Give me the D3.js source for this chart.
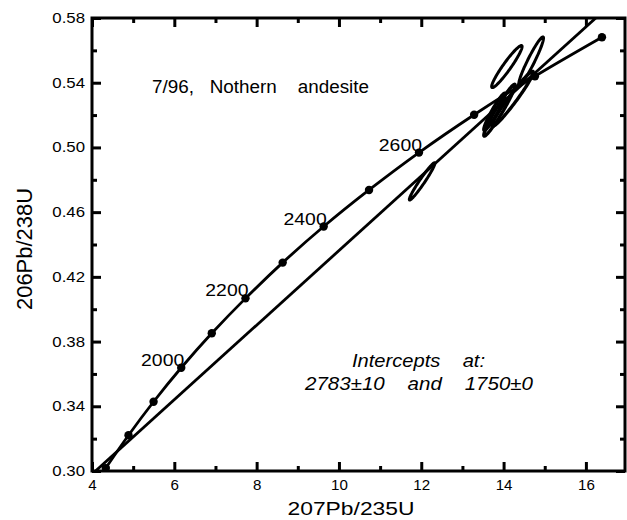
<!DOCTYPE html>
<html>
<head>
<meta charset="utf-8">
<script src="https://cdn.jsdelivr.net/npm/d3@7"></script>
<style>
  body { margin: 0; background: #fff; }
  svg { display: block; font-family: "Liberation Sans", Arial, sans-serif; }
  text { white-space: pre; }
</style>
</head>
<body>
<div id="chart"></div>
<script>
// concordia points (age in Ma, 207Pb/235U, 206Pb/238U)
var concAge = [1700, 1800, 1900, 2000, 2100, 2200, 2300, 2400, 2500, 2600, 2700, 2800, 2900];
var concX   = [4.335, 4.887, 5.496, 6.168, 6.910, 7.729, 8.633, 9.629, 10.731, 11.944, 13.284, 14.762, 16.39];
var concY   = [0.3018, 0.3221, 0.3428, 0.3638, 0.3851, 0.4067, 0.4288, 0.4511, 0.4737, 0.4968, 0.5202, 0.5440, 0.5681];
var labelAges = [2000, 2200, 2400, 2600];

// discordia end points
var discX = [3.9, 16.6];
var discY = [0.2957, 0.5883];

// error ellipses: centre, sigma x, sigma y, correlation
var ellX   = [12.02, 14.08, 14.67, 13.90, 14.22, 13.78];
var ellY   = [0.479, 0.550, 0.5535, 0.523, 0.530, 0.522];
var ellSx  = [0.31, 0.37, 0.30, 0.38, 0.50, 0.26];
var ellSy  = [0.0115, 0.013, 0.0148, 0.0160, 0.0170, 0.0115];
var ellRho = [0.97, 0.95, 0.95, 0.965, 0.97, 0.95];

var xTicks = [4, 6, 8, 10, 12, 14, 16];
var xMinor = [5, 7, 9, 11, 13, 15];
var yTicks = [0.30, 0.34, 0.38, 0.42, 0.46, 0.50, 0.54, 0.58];
var yMinor = [0.32, 0.36, 0.40, 0.44, 0.48, 0.52, 0.56];

var width = 627, height = 520;
var margin = {top: 18, right: 2, bottom: 49, left: 92};

var x = d3.scaleLinear().domain([4, 16.95]).range([margin.left, width - margin.right]);
var y = d3.scaleLinear().domain([0.30, 0.58]).range([height - margin.bottom, margin.top]);

var svg = d3.select("#chart").append("svg")
    .attr("width", width)
    .attr("height", height);

// stretch a text horizontally to a given length (the scan is wider than the font)
function fit(sel, len) {
    sel.attr("textLength", len).attr("lengthAdjust", "spacingAndGlyphs");
}
function widen(sel, k) {
    sel.each(function() {
        var w = this.getComputedTextLength();
        d3.select(this).attr("textLength", w * k).attr("lengthAdjust", "spacingAndGlyphs");
    });
}

svg.append("defs").append("clipPath").attr("id", "clip")
  .append("rect")
    .attr("x", x(4)).attr("y", y(0.58))
    .attr("width", x(16.95) - x(4)).attr("height", y(0.30) - y(0.58));

var plot = svg.append("g").attr("clip-path", "url(#clip)");

// discordia
plot.append("line")
    .attr("x1", x(discX[0])).attr("y1", y(discY[0]))
    .attr("x2", x(discX[1])).attr("y2", y(discY[1]))
    .attr("stroke", "#000").attr("stroke-width", 2.8);

// concordia
var conc = concX.map(function(d, i) { return [d, concY[i], concAge[i]]; });
plot.append("path")
    .datum(conc)
    .attr("fill", "none")
    .attr("stroke", "#000")
    .attr("stroke-width", 2.8)
    .attr("d", d3.line()
        .x(function(d) { return x(d[0]); })
        .y(function(d) { return y(d[1]); })
        .curve(d3.curveCatmullRom));

plot.selectAll(".dot")
    .data(conc)
  .enter().append("circle")
    .attr("class", "dot")
    .attr("cx", function(d) { return x(d[0]); })
    .attr("cy", function(d) { return y(d[1]); })
    .attr("r", 4.2);

// ellipses
var ellLine = d3.line()
    .x(function(d) { return x(d[0]); })
    .y(function(d) { return y(d[1]); })
    .curve(d3.curveLinearClosed);

ellX.forEach(function(cx, i) {
    var pts = d3.range(0, 2 * Math.PI, Math.PI / 60).map(function(t) {
        var r = ellRho[i];
        return [cx + ellSx[i] * Math.cos(t),
                ellY[i] + ellSy[i] * (r * Math.cos(t) + Math.sqrt(1 - r * r) * Math.sin(t))];
    });
    plot.append("path")
        .attr("d", ellLine(pts))
        .attr("fill", "none")
        .attr("stroke", "#000")
        .attr("stroke-width", i > 2 ? 3.4 : 3);
});

// age labels
svg.selectAll(".age")
    .data(conc.filter(function(d) { return labelAges.indexOf(d[2]) >= 0; }))
  .enter().append("text")
    .attr("class", "age")
    .attr("x", function(d) { return x(d[0]) + 3; })
    .attr("y", function(d) { return y(d[1]) - 2; })
    .attr("text-anchor", "end")
    .style("font-size", "17px")
    .text(function(d) { return d[2]; })
    .call(widen, 1.14);

// axes (all four sides, ticks inward)
var x0 = x.range()[0], x1 = x.range()[1], y0 = y.range()[0], y1 = y.range()[1];

function noDomain(g) { g.select(".domain").remove(); }

svg.append("g")
    .attr("class", "xaxis")
    .attr("transform", "translate(0," + y0 + ")")
    .call(d3.axisBottom(x).tickValues(xTicks).tickSizeInner(-9).tickSizeOuter(0).tickPadding(9))
    .call(noDomain);
svg.append("g")
    .attr("transform", "translate(0," + y0 + ")")
    .call(d3.axisBottom(x).tickValues(xMinor).tickSizeInner(-5).tickSizeOuter(0).tickFormat(""))
    .call(noDomain);
svg.append("g")
    .attr("transform", "translate(0," + y1 + ")")
    .call(d3.axisTop(x).tickValues(xTicks).tickSizeInner(-9).tickSizeOuter(0).tickFormat(""))
    .call(noDomain);
svg.append("g")
    .attr("transform", "translate(0," + y1 + ")")
    .call(d3.axisTop(x).tickValues(xMinor).tickSizeInner(-5).tickSizeOuter(0).tickFormat(""))
    .call(noDomain);

svg.append("g")
    .attr("class", "yaxis")
    .attr("transform", "translate(" + x0 + ",0)")
    .call(d3.axisLeft(y).tickValues(yTicks).tickSizeInner(-9).tickSizeOuter(0).tickPadding(7).tickFormat(d3.format(".2f")))
    .call(noDomain);
svg.append("g")
    .attr("transform", "translate(" + x0 + ",0)")
    .call(d3.axisLeft(y).tickValues(yMinor).tickSizeInner(-5).tickSizeOuter(0).tickFormat(""))
    .call(noDomain);
svg.append("g")
    .attr("transform", "translate(" + x1 + ",0)")
    .call(d3.axisRight(y).tickValues(yTicks).tickSizeInner(-9).tickSizeOuter(0).tickFormat(""))
    .call(noDomain);
svg.append("g")
    .attr("transform", "translate(" + x1 + ",0)")
    .call(d3.axisRight(y).tickValues(yMinor).tickSizeInner(-5).tickSizeOuter(0).tickFormat(""))
    .call(noDomain);

svg.selectAll(".tick line").attr("stroke", "#000").attr("stroke-width", 3);
svg.selectAll(".tick text").attr("fill", "#000")
    .style("font-size", "14px")
    .style("font-family", "Liberation Sans, Arial, sans-serif");
svg.selectAll(".yaxis .tick text").call(widen, 1.2);
svg.selectAll(".xaxis .tick text").call(widen, 1.08);

// frame
svg.append("rect")
    .attr("x", x0).attr("y", y1)
    .attr("width", x1 - x0).attr("height", y0 - y1)
    .attr("fill", "none").attr("stroke", "#000").attr("stroke-width", 3);

// axis titles
svg.append("text")
    .attr("x", 351).attr("y", 515)
    .attr("text-anchor", "middle")
    .style("font-size", "18px")
    .text("207Pb/235U")
    .call(fit, 127);

svg.append("text")
    .attr("transform", "rotate(-90)")
    .attr("x", -249).attr("y", 32)
    .attr("text-anchor", "middle")
    .style("font-size", "22px")
    .text("206Pb/238U")
    .call(fit, 122);

// annotations
svg.append("text")
    .attr("x", 152).attr("y", 93)
    .style("font-size", "17.5px")
    .text("7/96,   Nothern    andesite")
    .call(fit, 217);

svg.append("text")
    .attr("x", 352).attr("y", 367)
    .style("font-size", "18px")
    .style("font-style", "italic")
    .text("Intercepts    at:")
    .call(fit, 133);

svg.append("text")
    .attr("x", 305).attr("y", 390)
    .style("font-size", "18px")
    .style("font-style", "italic")
    .text("2783\u00b110    and    1750\u00b10")
    .call(fit, 228);
</script>
</body>
</html>
